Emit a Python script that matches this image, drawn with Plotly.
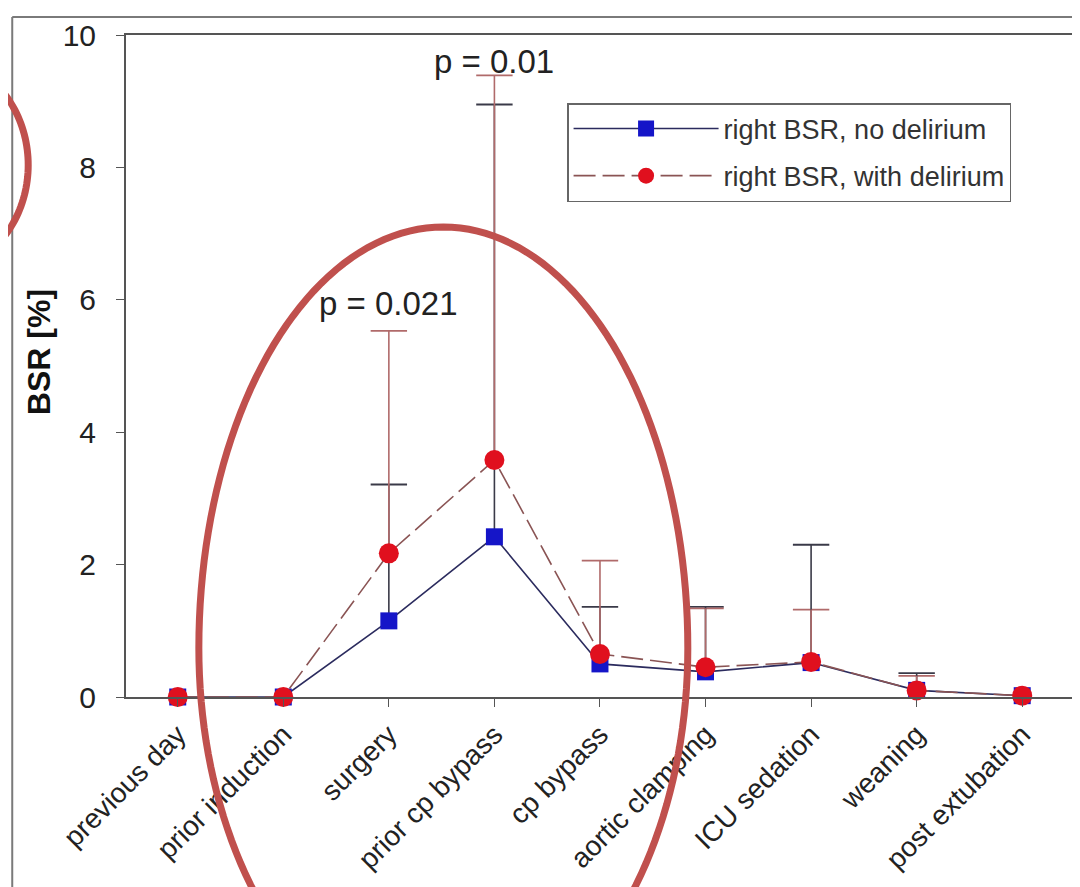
import numpy as np
import plotly.graph_objects as go

# ---------------- data ----------------
categories = ["previous day", "prior induction", "surgery", "prior cp bypass",
              "cp bypass", "aortic clamping", "ICU sedation", "weaning", "post extubation"]
no_delirium = [0.0, 0.0, 1.15, 2.42, 0.50, 0.38, 0.52, 0.10, 0.02]
no_delirium_err = [None, None, 2.06, 6.53, 0.86, 0.98, 1.78, 0.26, None]
with_delirium = [0.0, 0.0, 2.17, 3.58, 0.65, 0.45, 0.53, 0.10, 0.02]
with_delirium_err = [None, None, 3.36, 5.81, 1.41, 0.89, 0.79, 0.22, None]
y_ticks = [0, 2, 4, 6, 8, 10]
p_labels = [("surgery", 5.95, "p = 0.021"), ("prior cp bypass", 9.6, "p = 0.01")]

FONT = "Liberation Sans, Arial, sans-serif"
OFF = 8                      # page body margin of the html page
W, H = 1080 - OFF, 887 - OFF
L, T = 126 - OFF, 35 - OFF
PR, PB = 1077 - OFF, 697 - OFF
R, B = W - PR, H - PB
PW, PH = PR - L, PB - T


def px(xp):                  # reference pixel x -> paper
    return (xp - OFF - L) / PW


def py(yp):                  # reference pixel y -> paper
    return (PB - (yp - OFF)) / PH


x_idx = list(range(len(categories)))


def cap_points(vals, errs):
    xs, ys = [], []
    for i, (v, e) in enumerate(zip(vals, errs)):
        if e is not None:
            xs.append(i)
            ys.append(v + e)
    return xs, ys


series = [
    dict(name="right BSR, no delirium", y=no_delirium, err=no_delirium_err,
         line=dict(color="#2b2b5e", width=1.6),
         marker=dict(symbol="square", size=17, color="#1515c8"), errc="#3a3a48"),
    dict(name="right BSR, with delirium", y=with_delirium, err=with_delirium_err,
         line=dict(color="#8a5454", width=1.6, dash="22px,7px"),
         marker=dict(symbol="circle", size=20, color="#e0101e"), errc="#b06a6a"),
]

fig = go.Figure()
for k, s in enumerate(series):
    cx, cy = cap_points(s["y"], s["err"])
    # upper caps of the error bars
    fig.add_trace(go.Scatter(
        x=cx, y=cy, mode="markers", showlegend=False, hoverinfo="skip",
        marker=dict(symbol="line-ew", size=26, line=dict(color=s["errc"], width=1.8)),
        cliponaxis=False,
    ))
for k, s in enumerate(series):
    fig.add_trace(go.Scatter(
        x=x_idx, y=s["y"], name=s["name"], mode="lines+markers", legendgroup=f"g{k}",
        line=s["line"], marker=s["marker"],
        error_y=dict(type="data", array=s["err"],
                     arrayminus=[0 if e is not None else None for e in s["err"]],
                     symmetric=False, color=s["errc"], thickness=1.6, width=0),
        cliponaxis=False,
    ))

annotations = []
for cat, yv, txt in p_labels:
    annotations.append(dict(x=categories.index(cat), y=yv, xref="x", yref="y", text=txt,
                            xanchor="center", yanchor="middle",
                            showarrow=False, font=dict(family=FONT, size=33, color="#222")))
annotations.append(dict(x=px(39), y=py(352), xref="paper", yref="paper", text="<b>BSR [%]</b>",
                        xanchor="center", yanchor="middle",
                        textangle=-90, showarrow=False,
                        font=dict(family=FONT, size=32, color="#111")))

# slide decoration: outer frame and hand-drawn red ellipses
shapes = [
    dict(type="line", xref="paper", yref="paper", x0=px(12), x1=px(1090), y0=py(17), y1=py(17),
         line=dict(color="#7a7a7a", width=2)),
    dict(type="line", xref="paper", yref="paper", x0=px(12), x1=px(12), y0=py(17), y1=py(900),
         line=dict(color="#7a7a7a", width=2)),
]


def egg_path(cx, cy, a, b_top, b_bottom):
    t = np.linspace(0, 2 * np.pi, 181)
    xs = cx + a * np.cos(t)
    s = np.sin(t)
    ys = cy + np.where(s < 0, b_top, b_bottom) * s
    pts = [f"{px(x):.5f},{py(y):.5f}" for x, y in zip(xs, ys)]
    return "M" + " L".join(pts) + " Z"


shapes.append(dict(type="path", xref="paper", yref="paper", path=egg_path(444, 648, 245, 421, 385),
                   line=dict(color="#c0504d", width=7), layer="above"))
shapes.append(dict(type="path", xref="paper", yref="paper", path=egg_path(-72, 165, 100, 110, 110),
                   line=dict(color="#c0504d", width=7), layer="above"))

fig.update_layout(
    width=W, height=H,
    margin=dict(l=L, r=R, t=T, b=B),
    paper_bgcolor="white", plot_bgcolor="white",
    font=dict(family=FONT, color="#222"),
    xaxis=dict(range=[-0.49, 8.5], tickmode="array", tickvals=x_idx, ticktext=categories,
               tickangle=-45, tickfont=dict(size=28, color="#222"),
               showline=True, mirror=True, linecolor="#555", linewidth=2,
               ticks="outside", ticklen=8, tickcolor="#555", showgrid=False, zeroline=False),
    yaxis=dict(range=[0, 10], tickmode="array", tickvals=y_ticks,
               tickfont=dict(size=30, color="#222"),
               showline=True, mirror=True, linecolor="#555", linewidth=2,
               ticks="outside", ticklen=8, tickcolor="#555", showgrid=False, zeroline=False,
               ticklabelstandoff=14),
    legend=dict(x=px(568), y=py(103), xanchor="left", yanchor="top",
                bgcolor="white", bordercolor="#666", borderwidth=1.5,
                font=dict(size=27, color="#333"), itemwidth=145,
                entrywidth=295, entrywidthmode="pixels",
                tracegroupgap=9),
    annotations=annotations,
    shapes=shapes,
    showlegend=True,
)

fig.write_html("out.html")
